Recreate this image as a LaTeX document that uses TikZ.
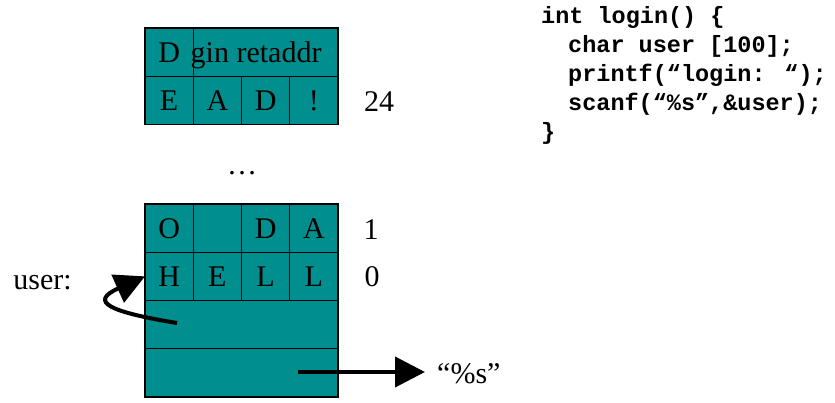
\documentclass[tikz,border=0pt]{standalone}
\usepackage{fontspec}
\setmainfont{Liberation Serif}
\newfontfamily\codefont{Liberation Mono}
\usetikzlibrary{arrows.meta}
\definecolor{cellteal}{RGB}{0,142,142}
\begin{document}
\begin{tikzpicture}[x=1pt,y=-1pt,
  cell/.style={draw=black, line width=1.1pt, fill=cellteal, inner sep=0pt, outer sep=0pt,
    minimum width=48.25pt, minimum height=48.25pt, anchor=north west,
    font=\fontsize{30}{36}\selectfont, text height=21pt, text depth=0pt},
  lbl/.style={inner sep=0pt, font=\fontsize{30}{36}\selectfont},
  code/.style={inner sep=0pt, anchor=base west, font=\codefont\bfseries\fontsize{23.5}{28}\selectfont},
  ptrarrow/.style={line width=4pt, -{Triangle[length=30pt,width=30pt]}}]
\useasboundingbox (0,0) rectangle (835,403);

% upper frame: saved data and return address
\node[cell] (d1) at (145,28) {D};
\node[cell, minimum width=144.75pt] (ret) at (193.25,28) {};
\node[lbl, anchor=base west] (retlbl) at (190.5,63) {gin retaddr};
\node[cell] (e2) at (145,76.25) {E};
\node[cell] (a2) at (193.25,76.25) {A};
\node[cell] (d2) at (241.5,76.25) {D};
\node[cell] (x2) at (289.75,76.25) {!};
\node[lbl, anchor=base] (n24) at (379,112) {24};

\node[lbl, anchor=base] (dots) at (242,175) {…};

% lower frame: the user buffer
\node[cell] (o1) at (145,204) {O};
\node[cell] (b1) at (193.25,204) {};
\node[cell] (d3) at (241.5,204) {D};
\node[cell] (a3) at (289.75,204) {A};
\node[lbl, anchor=base] (n1) at (371,240) {1};
\node[cell] (cellH) at (145,252.25) {H};
\node[cell] (cellE) at (193.25,252.25) {E};
\node[cell] (cellL) at (241.5,252.25) {L};
\node[cell] (cellL2) at (289.75,252.25) {L};
\node[lbl, anchor=base] (n0) at (372,287) {0};
\node[cell, minimum width=193pt] (argptr) at (145,300.5) {};
\node[cell, minimum width=193pt] (argfmt) at (145,348.75) {};

\node[lbl, anchor=base east] (userlbl) at (72,290) {user:};
\node[lbl, anchor=base west] (fmt) at (437,383) {“\%s”};

% pointers
\coordinate (ptr) at (177,323);
\draw[ptrarrow] (ptr) .. controls (110,312) and (88,302) .. (cellH.west);
\coordinate (fmtptr) at (298,372);
\draw[ptrarrow] (fmtptr) -- ([xshift=-12pt]fmtptr -| fmt.west);

% source code
\node[code] (c1) at (541,24) {int login() \{};
\node[code] (c2) at (568,53) {char user [100];};
\node[code] (c3) at (568,82) {printf(“login: “);};
\node[code] (c4) at (568,111) {scanf(“\%s”,\&user);};
\node[code] (c5) at (541,140) {\}};
\end{tikzpicture}
\end{document}
